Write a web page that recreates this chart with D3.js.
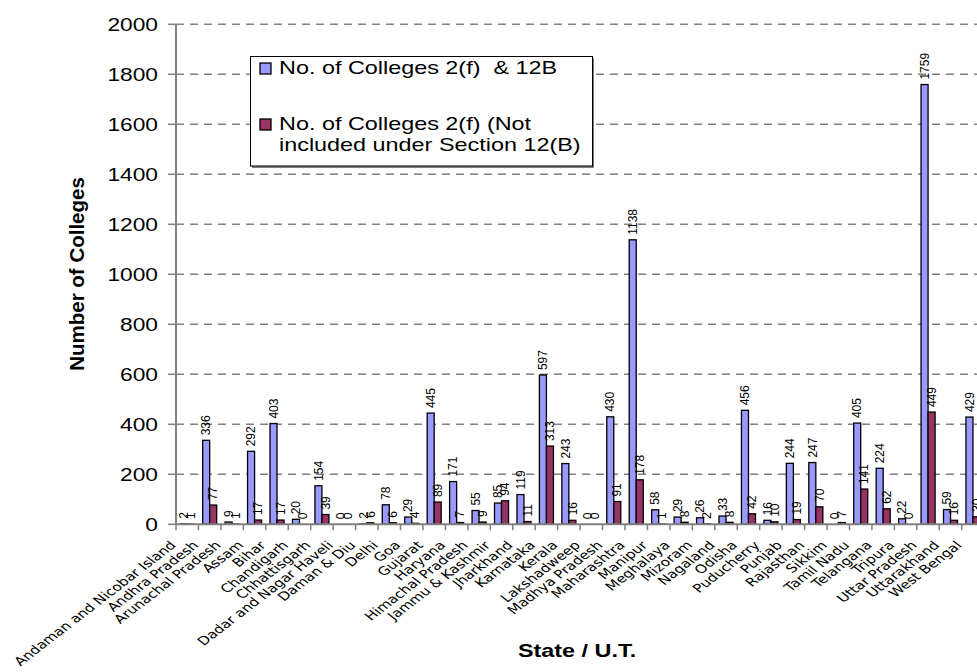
<!DOCTYPE html>
<html>
<head>
<meta charset="utf-8">
<script src="https://cdn.jsdelivr.net/npm/d3@7"></script>
<style>
  html, body { margin: 0; padding: 0; background: #ffffff; }
  svg { display: block; }
</style>
</head>
<body>
<svg id="chart" width="977" height="672"></svg>
<script>
// ---------------- DATA ----------------
const categories = [
  "Andaman and Nicobar Island", "Andhra Pradesh", "Arunachal Pradesh", "Assam", "Bihar",
  "Chandigarh", "Chhattisgarh", "Dadar and Nagar Haveli", "Daman & Diu", "Delhi",
  "Goa", "Gujarat", "Haryana", "Himachal Pradesh", "Jammu & Kashmir",
  "Jharkhand", "Karnataka", "Kerala", "Lakshadweep", "Madhya Pradesh",
  "Maharashtra", "Manipur", "Meghalaya", "Mizoram", "Nagaland",
  "Odisha", "Puducherry", "Punjab", "Rajasthan", "Sikkim",
  "Tamil Nadu", "Telangana", "Tripura", "Uttar Pradesh", "Uttarakhand",
  "West Bengal"
];
const seriesNames = ["No. of Colleges 2(f)  & 12B", "No. of Colleges 2(f) (Not included under Section 12(B)"];
const colleges12B = [2, 336, 9, 292, 403, 20, 154, 0, 2, 78, 29, 445, 171, 55, 85, 119, 597, 243, 0, 430,
                     1138, 58, 29, 26, 33, 456, 16, 244, 247, 0, 405, 224, 22, 1759, 59, 429];
const collegesNot12B = [1, 77, 1, 17, 17, 0, 39, 0, 6, 6, 4, 89, 7, 9, 94, 11, 313, 16, 0, 91,
                        178, 1, 8, 2, 8, 42, 10, 19, 70, 7, 141, 62, 0, 449, 16, 30];
const yTicks = [0, 200, 400, 600, 800, 1000, 1200, 1400, 1600, 1800, 2000];
const seriesColors = ["#9999FF", "#993366"];
const yTitle = "Number of Colleges";
const xTitle = "State / U.T.";
const legendLines = [["No. of Colleges 2(f)  & 12B"], ["No. of Colleges 2(f) (Not", "included under Section 12(B)"]];

// ---------------- LAYOUT ----------------
const SX = 1.3;               // horizontal stretch of the original picture
const left = 176, step = 22.45;
const svg = d3.select("#chart");
svg.append("rect").attr("width", 977).attr("height", 672).attr("fill", "#fff");

const x = d3.scaleBand().domain(categories).range([left, left + step * categories.length]).padding(0);
const xs = d3.scaleBand().domain([0, 1]).range([0, x.bandwidth()]).paddingInner(0).paddingOuter(0.6);
const y = d3.scaleLinear().domain([0, 2000]).range([524.3, 24.3]);

const rows = categories.map((c, i) => ({ cat: c, vals: [colleges12B[i], collegesNot12B[i]] }));

// grid lines
svg.append("g").selectAll("line").data(yTicks.filter(d => d > 0)).join("line")
  .attr("x1", left).attr("x2", 977)
  .attr("y1", d => y(d)).attr("y2", d => y(d))
  .attr("stroke", "#808080").attr("stroke-width", 1.4).attr("stroke-dasharray", "8,6");

// bars
const g = svg.append("g");
rows.forEach(r => {
  r.vals.forEach((v, s) => {
    g.append("rect")
      .attr("x", x(r.cat) + xs(s))
      .attr("y", y(v))
      .attr("width", xs.bandwidth())
      .attr("height", y(0) - y(v))
      .attr("fill", seriesColors[s])
      .attr("stroke", "#000").attr("stroke-width", 1.3);
  });
});

// axes
const axisColor = "#808080";
svg.append("line").attr("x1", left).attr("x2", left).attr("y1", y(0) + 1).attr("y2", y(2000))
  .attr("stroke", axisColor).attr("stroke-width", 2);
svg.append("g").selectAll("line").data(yTicks).join("line")
  .attr("x1", left - 8).attr("x2", left).attr("y1", d => y(d)).attr("y2", d => y(d))
  .attr("stroke", axisColor).attr("stroke-width", 1.5);
svg.append("line").attr("x1", left).attr("x2", x.range()[1]).attr("y1", y(0)).attr("y2", y(0))
  .attr("stroke", axisColor).attr("stroke-width", 2);
svg.append("g").selectAll("line").data(d3.range(categories.length + 1)).join("line")
  .attr("x1", i => left + i * x.step()).attr("x2", i => left + i * x.step())
  .attr("y1", y(0)).attr("y2", y(0) + 6)
  .attr("stroke", axisColor).attr("stroke-width", 1.5);

// y tick labels
svg.append("g").selectAll("text").data(yTicks).join("text")
  .attr("transform", d => `translate(158,${y(d)}) scale(${SX},1)`)
  .attr("text-anchor", "end").attr("dy", "0.36em")
  .attr("font-family", "Liberation Sans, Arial, sans-serif").attr("font-size", 17.5)
  .attr("fill", "#000").text(d => d);

// value labels
const vl = svg.append("g");
rows.forEach(r => {
  r.vals.forEach((v, s) => {
    const cx = x(r.cat) + xs(s) + xs.bandwidth() / 2;
    vl.append("text")
      .attr("transform", `translate(${cx + 4.2},${y(v) - 5}) rotate(-90)`)
      .attr("text-anchor", "start")
      .attr("font-family", "Liberation Sans, Arial, sans-serif").attr("font-size", 12)
      .attr("fill", "#000").text(v);
  });
});

// category labels
svg.append("g").selectAll("text").data(categories).join("text")
  .attr("transform", d => `translate(${x(d) + 1},546) scale(${SX},1) rotate(-45)`)
  .attr("text-anchor", "end")
  .attr("font-family", "DejaVu Sans, Verdana, sans-serif").attr("font-size", 11.8)
  .attr("fill", "#000").text(d => d);

// titles
svg.append("text")
  .attr("transform", `translate(577,657) scale(${SX},1)`)
  .attr("text-anchor", "middle")
  .attr("font-family", "Liberation Sans, Arial, sans-serif").attr("font-size", 18).attr("font-weight", "bold")
  .text(xTitle);
svg.append("text")
  .attr("transform", `translate(84,274) rotate(-90)`)
  .attr("text-anchor", "middle")
  .attr("font-family", "Liberation Sans, Arial, sans-serif").attr("font-size", 20.5).attr("font-weight", "bold")
  .text(yTitle);

// legend
const lg = svg.append("g");
lg.append("rect").attr("x", 252).attr("y", 58).attr("width", 342).attr("height", 110).attr("fill", "#808080");
lg.append("rect").attr("x", 250.5).attr("y", 56.5).attr("width", 342).attr("height", 109.5)
  .attr("fill", "#fff").attr("stroke", "#000").attr("stroke-width", 1);
const legendY = [74, 130];
seriesNames.forEach((n, i) => {
  lg.append("rect").attr("x", 260).attr("y", legendY[i] - 11).attr("width", 11).attr("height", 11)
    .attr("fill", seriesColors[i]).attr("stroke", "#000").attr("stroke-width", 1.3);
  legendLines[i].forEach((t, j) => {
    lg.append("text")
      .attr("transform", `translate(279,${legendY[i] + j * 21}) scale(${SX},1)`)
      .attr("font-family", "Liberation Sans, Arial, sans-serif").attr("font-size", 18)
      .style("white-space", "pre")
      .text(t);
  });
});
</script>
</body>
</html>
